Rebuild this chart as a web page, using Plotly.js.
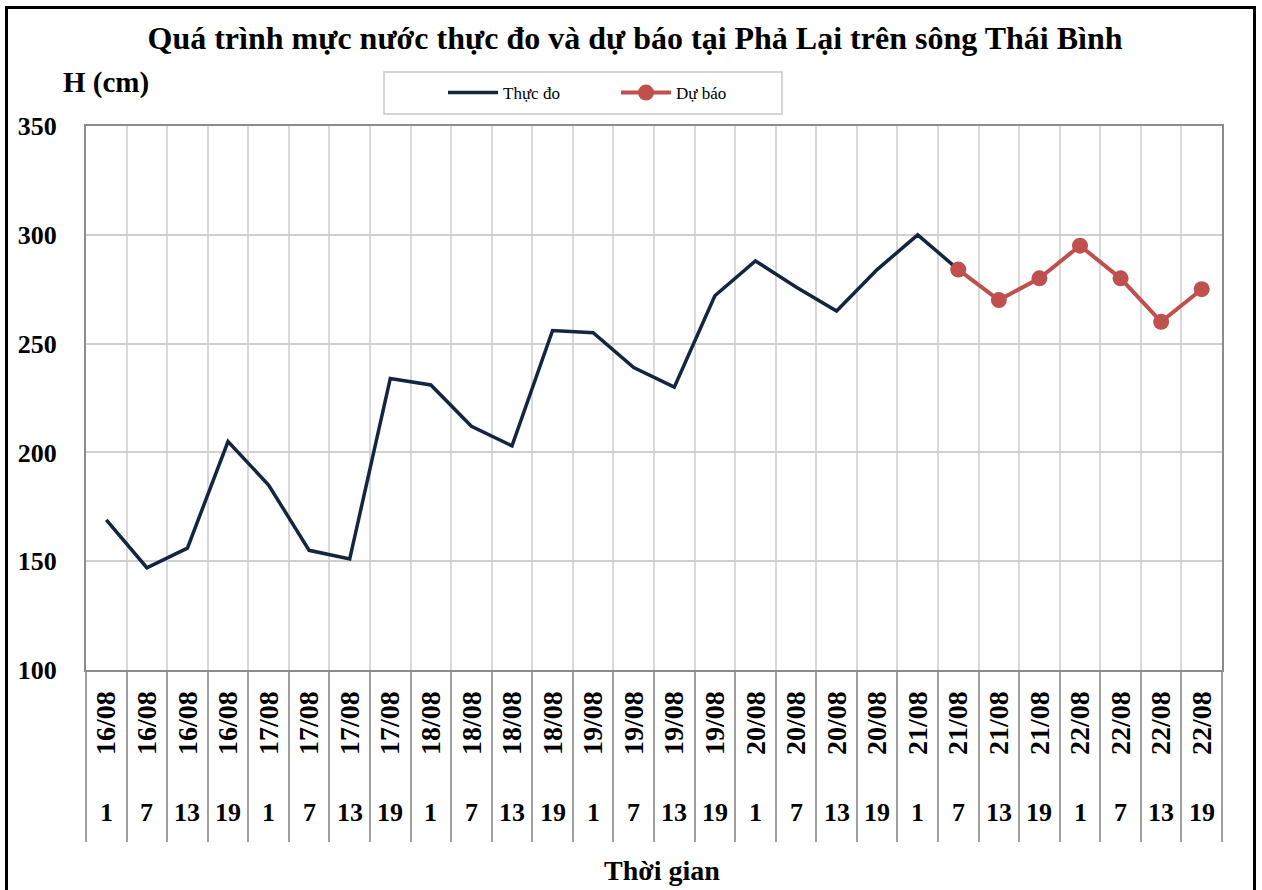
<!DOCTYPE html>
<html>
<head>
<meta charset="utf-8">
<script src="https://cdn.plot.ly/plotly-3.0.1.min.js"></script>
<style>
html,body{margin:0;padding:0;overflow:hidden;background:#fff;}
#wrap{position:relative;width:1262px;height:890px;}
#chart{width:1262px;height:890px;}
#frame{position:absolute;left:5px;top:6px;width:1245px;height:900px;border:3px solid #000;pointer-events:none;}
</style>
</head>
<body>
<div id="wrap"><div id="chart"></div><div id="frame"></div></div>
<script>
// Category labels (date / hour)
const dates = ["16/08","16/08","16/08","16/08","17/08","17/08","17/08","17/08",
               "18/08","18/08","18/08","18/08","19/08","19/08","19/08","19/08",
               "20/08","20/08","20/08","20/08","21/08","21/08","21/08","21/08",
               "22/08","22/08","22/08","22/08"];
const hours = ["1","7","13","19","1","7","13","19","1","7","13","19","1","7","13","19",
               "1","7","13","19","1","7","13","19","1","7","13","19"];
// Observed water level (cm), indices 0..21
const observed = [169,147,156,205,185,155,151,234,231,212,203,256,255,239,230,272,288,276,265,284,300,284];
// Forecast water level (cm), indices 21..27
const forecast = [284,270,280,295,280,260,275];
const forecastStart = 21;

const idx = dates.map((d,i)=>i);
const obsX = observed.map((v,i)=>i);
const fcX = forecast.map((v,i)=>i+forecastStart);

const serif = "Liberation Serif, Times New Roman, serif";

const L = 86, R = 1222, T = 126, B = 670;
const px = (x)=> (x - L)/(R - L);
const py = (y)=> (B - y)/(B - T);

const traces = [
  {x: obsX, y: observed, type:'scatter', mode:'lines', name:'Thực đo',
   line:{color:'#13253f', width:3.5}},
  {x: fcX, y: forecast, type:'scatter', mode:'lines+markers', name:'Dự báo',
   line:{color:'#c0504d', width:4}, marker:{color:'#c0504d', size:16}}
];

const annotations = hours.map((h,i)=>({
  x:i, xref:'x', y:py(812), yref:'paper', text:h, showarrow:false,
  xanchor:'center', yanchor:'middle',
  font:{family:serif, size:26, color:'#000', weight:'bold'}
}));
annotations.push({x:px(61), xref:'paper', y:py(82), yref:'paper', text:'H (cm)',
  showarrow:false, xanchor:'left', yanchor:'middle',
  font:{family:serif, size:29, color:'#000', weight:'bold'}});
annotations.push({x:px(662), xref:'paper', y:py(888), yref:'paper', text:'Thời gian',
  showarrow:false, xanchor:'center', yanchor:'bottom',
  font:{family:serif, size:28, color:'#000', weight:'bold'}});

const layout = {
  width:1262, height:890,
  margin:{l:L, r:1262-R, t:T, b:890-B},
  paper_bgcolor:'#fff', plot_bgcolor:'#fff',
  title:{text:'Quá trình mực nước thực đo và dự báo tại Phả Lại trên sông Thái Bình',
    x:(148+1122)/2/1262, xref:'container', xanchor:'center', y:1-38/890, yref:'container', yanchor:'middle',
    font:{family:serif, size:32, color:'#000', weight:'bold'}},
  showlegend:true,
  legend:{orientation:'h', x:px(443), y:py(93), xanchor:'left', yanchor:'middle',
    bgcolor:'rgba(0,0,0,0)', borderwidth:0,
    font:{family:serif, size:17, color:'#000'},
    entrywidth:108, entrywidthmode:'pixels', itemwidth:50},
  xaxis:{range:[-0.5, 27.5], tickmode:'array', tickvals:idx, ticktext:dates,
    tickangle:-90, ticks:'', showgrid:false, zeroline:false,
    showline:true, mirror:true, linecolor:'#8c8c8c', linewidth:2,
    ticklabelstandoff:8,
    tickfont:{family:serif, size:28, color:'#000', weight:'bold'},
    minor:{tickmode:'array', tickvals:idx.concat([idx.length]).map(i=>i-0.5),
      showgrid:true, gridcolor:'#d9d9d9', gridwidth:2,
      ticks:'outside', ticklen:170, tickcolor:'#a0a0a0', tickwidth:2}},
  yaxis:{range:[100,350], tickmode:'linear', tick0:100, dtick:50,
    showgrid:true, gridcolor:'#d0d0d0', gridwidth:2, zeroline:false,
    showline:true, mirror:true, linecolor:'#8c8c8c', linewidth:2,
    ticks:'', ticklabelstandoff:22,
    tickfont:{family:serif, size:26, color:'#000', weight:'bold'}},
  shapes:[{type:'rect', xref:'paper', yref:'paper', x0:px(384), x1:px(782), y0:py(114), y1:py(72),
    line:{color:'#c8c8c8', width:1.5}, fillcolor:'rgba(0,0,0,0)', layer:'below'}],
  annotations:annotations
};

Plotly.newPlot('chart', traces, layout, {displayModeBar:false, staticPlot:true});
</script>
</body>
</html>
